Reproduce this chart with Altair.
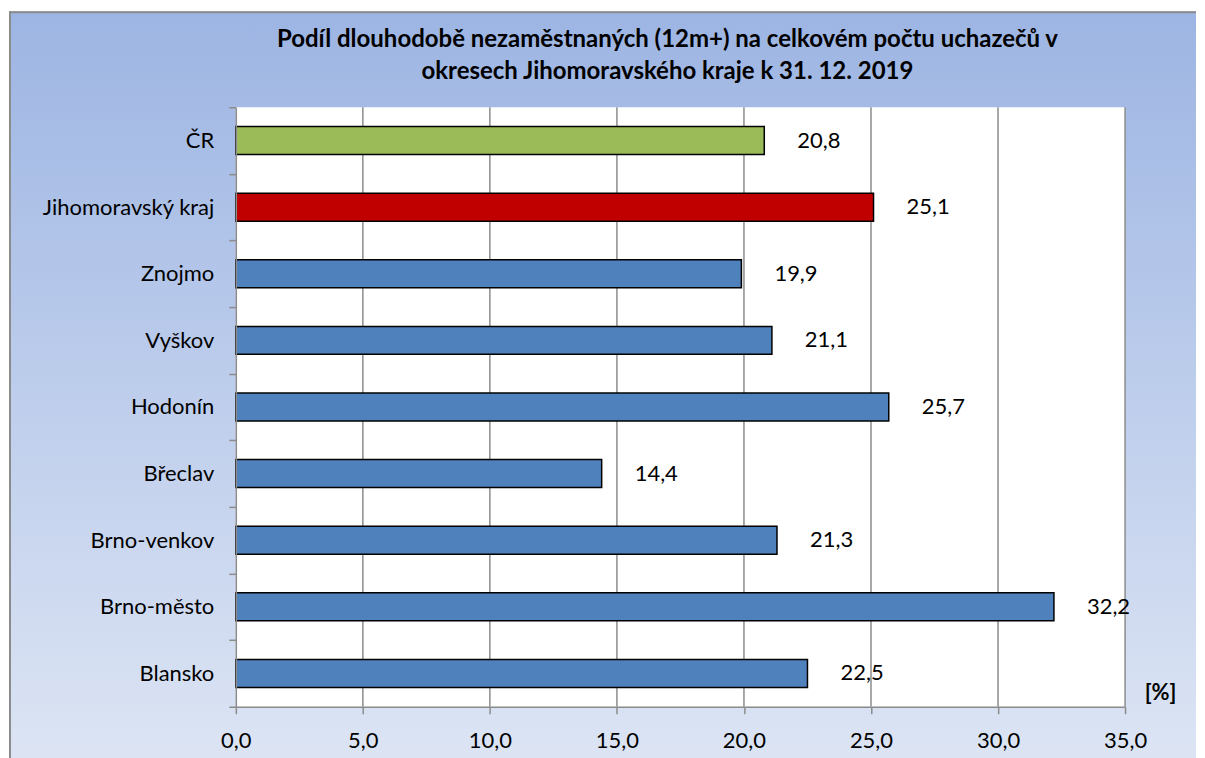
import altair as alt
import pandas as pd

categories = ["ČR", "Jihomoravský kraj", "Znojmo", "Vyškov", "Hodonín",
              "Břeclav", "Brno-venkov", "Brno-město", "Blansko"]
values = [20.8, 25.1, 19.9, 21.1, 25.7, 14.4, 21.3, 32.2, 22.5]
bar_colors = ["#9bbb59", "#c00000", "#4f81bd", "#4f81bd", "#4f81bd",
              "#4f81bd", "#4f81bd", "#4f81bd", "#4f81bd"]
x_ticks = [0, 5, 10, 15, 20, 25, 30, 35]
grid_ticks = [5, 10, 15, 20, 25, 30, 35]
title_lines = ["Podíl dlouhodobě nezaměstnaných (12m+) na celkovém počtu uchazečů v",
               "okresech Jihomoravského kraje k 31. 12. 2019"]

df = pd.DataFrame({"cat": categories, "val": values, "col": bar_colors})
df["label"] = [f"{v:.1f}".replace(".", ",") for v in values]
grid_df = pd.DataFrame({"g": grid_ticks})
one = pd.DataFrame({"d": [0]})

W, H = 890, 600
FONT = "Lato"
GRAY = "#8c8c8c"
FS = 22

xscale = alt.Scale(domain=[0, 35], nice=False, zero=True)
yscale = alt.Scale(domain=categories, paddingInner=0, paddingOuter=0)

x_axis = alt.Axis(values=x_ticks,
                  labelExpr="replace(format(datum.value,'.1f'),'.',',')",
                  labelFlush=False,
                  grid=False, domainColor=GRAY, domainWidth=1.5,
                  tickColor=GRAY, tickWidth=1.5, tickSize=7,
                  labelFont=FONT, labelFontSize=FS, labelColor="black",
                  labelPadding=17,
                  title="[%]", titleFont=FONT, titleFontSize=FS,
                  titleFontWeight="bold", titleColor="black",
                  titleX=925, titleY=-14, titleBaseline="middle",
                  titleAlign="center", zindex=1)
y_axis = alt.Axis(title=None, tickBand="extent", domainColor=GRAY,
                  domainWidth=1.5, tickColor=GRAY, tickWidth=1.5, tickSize=7,
                  labelFont=FONT, labelFontSize=FS, labelColor="black",
                  labelPadding=15, zindex=1)

X = alt.X("val:Q", scale=xscale, axis=x_axis)
Y = alt.Y("cat:N", scale=yscale, sort=categories, axis=y_axis)

bg = alt.Chart(one).mark_rect(
    fill={"gradient": "linear", "x1": 0, "y1": 0, "x2": 0, "y2": 1,
          "stops": [{"offset": 0, "color": "#9db5e3"},
                    {"offset": 1, "color": "#dde5f4"}]},
    strokeWidth=0
).encode(x=alt.value(-227), x2=alt.value(961), y=alt.value(-96), y2=alt.value(660))

border_top = alt.Chart(one).mark_rule(color=GRAY, strokeWidth=2).encode(
    x=alt.value(-227), x2=alt.value(961), y=alt.value(-95))
border_left = alt.Chart(one).mark_rule(color=GRAY, strokeWidth=2).encode(
    x=alt.value(-226), y=alt.value(-96), y2=alt.value(660))

plotbg = alt.Chart(one).mark_rect(fill="white").encode(
    x=alt.value(0), x2=alt.value(W), y=alt.value(0), y2=alt.value(H))

title = alt.Chart(one).mark_text(
    text=title_lines, font=FONT, fontSize=24, fontWeight="bold",
    color="black", lineHeight=32, align="center", baseline="middle"
).encode(x=alt.value(432), y=alt.value(-67))

grid = alt.Chart(grid_df).mark_rule(color=GRAY, strokeWidth=1.5).encode(
    x=alt.X("g:Q", scale=xscale, axis=x_axis))

bars = alt.Chart(df).mark_bar(height={"band": 0.42}, stroke="black",
                              strokeWidth=1.5).encode(
    x=X, y=Y, fill=alt.Fill("col:N", scale=None))

text = alt.Chart(df).mark_text(align="left", baseline="middle", dx=33,
                               font=FONT, fontSize=FS, color="black").encode(
    x=X, y=Y, text="label:N")

chart = alt.layer(bg, border_top, border_left, plotbg, title, grid, bars, text).properties(
    width=W, height=H,
    padding={"left": 0, "top": 2, "right": 0, "bottom": 0},
).configure_view(stroke=None)

chart.save("out.html", embed_options={"renderer": "svg", "actions": False})
